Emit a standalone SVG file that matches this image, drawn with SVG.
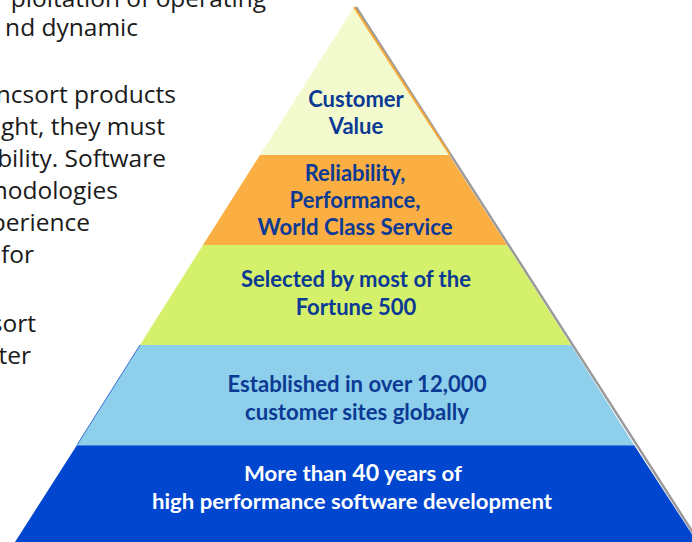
<svg xmlns="http://www.w3.org/2000/svg" width="692" height="542" viewBox="0 0 692 542">
<style>
.body{font-family:"Open Sans","Liberation Sans",sans-serif;font-size:24.5px;fill:#1a1a1a;text-anchor:end}
.lbl{font-family:Lato,"Liberation Sans",sans-serif;font-weight:bold;font-size:22px;fill:#0B3A94;text-anchor:middle}
.wlbl{font-family:Lato,"Liberation Sans",sans-serif;font-weight:bold;font-size:21px;fill:#ffffff;text-anchor:middle}
.edge{stroke-width:1}
</style>
<rect width="692" height="542" fill="#ffffff"/>
<g id="left-text">
<text class="body" x="266" y="7">ploitation of operating</text>
<text class="body" x="138" y="36">nd dynamic</text>
<text class="body" x="176" y="103">ncsort products</text>
<text class="body" x="165" y="135">ght, they must</text>
<text class="body" x="166" y="167">bility. Software</text>
<text class="body" x="118" y="199">nodologies</text>
<text class="body" x="90" y="231">perience</text>
<text class="body" x="34" y="263">for</text>
<text class="body" x="36" y="332">sort</text>
<text class="body" x="31" y="364">ter</text>
</g>
<line x1="356" y1="7" x2="699" y2="542" stroke="#9a9a9a" stroke-width="2.5"/>
<g id="layer-customer-value">
<polygon points="354,7 449,155 260,155" fill="#F3FBCE"/>
<line x1="354" y1="7" x2="450" y2="155" stroke="#F7A93A" stroke-width="2"/>
<text class="lbl" x="356" y="107">Customer</text>
<text class="lbl" x="356" y="134">Value</text>
</g>
<g id="layer-reliability">
<polygon points="260,155 449,155 507,245 203,245" fill="#FBAE42"/>
<text class="lbl" x="355" y="181">Reliability,</text>
<text class="lbl" x="355" y="208">Performance,</text>
<text class="lbl" x="355" y="235" textLength="195" lengthAdjust="spacingAndGlyphs">World Class Service</text>
</g>
<g id="layer-fortune">
<polygon points="203,245 507,245 571,345 140,345" fill="#D5F16B"/>
<text class="lbl" x="356" y="287" textLength="230" lengthAdjust="spacingAndGlyphs">Selected by most of the</text>
<text class="lbl" x="356" y="315">Fortune 500</text>
</g>
<g id="layer-sites">
<polygon points="140,345 571,345 634,445 77,445" fill="#8ECFEB"/>
<line x1="140" y1="345" x2="77" y2="445" stroke="#3a6fd8" class="edge"/>
<text class="lbl" x="357" y="392" textLength="259" lengthAdjust="spacingAndGlyphs">Established in over 12,000</text>
<text class="lbl" x="357" y="420" textLength="224" lengthAdjust="spacingAndGlyphs">customer sites globally</text>
</g>
<g id="layer-experience">
<polygon points="77,445 634,445 697,542 15,542" fill="#0046CF"/>
<line x1="77" y1="445.5" x2="634" y2="445.5" stroke="#4a7fe0" class="edge"/>
<text class="wlbl" x="353" y="481" textLength="218" lengthAdjust="spacingAndGlyphs">More than <tspan font-size="22">40</tspan> years of</text>
<text class="wlbl" x="352" y="509" textLength="400" lengthAdjust="spacingAndGlyphs">high performance software development</text>
</g>
</svg>
